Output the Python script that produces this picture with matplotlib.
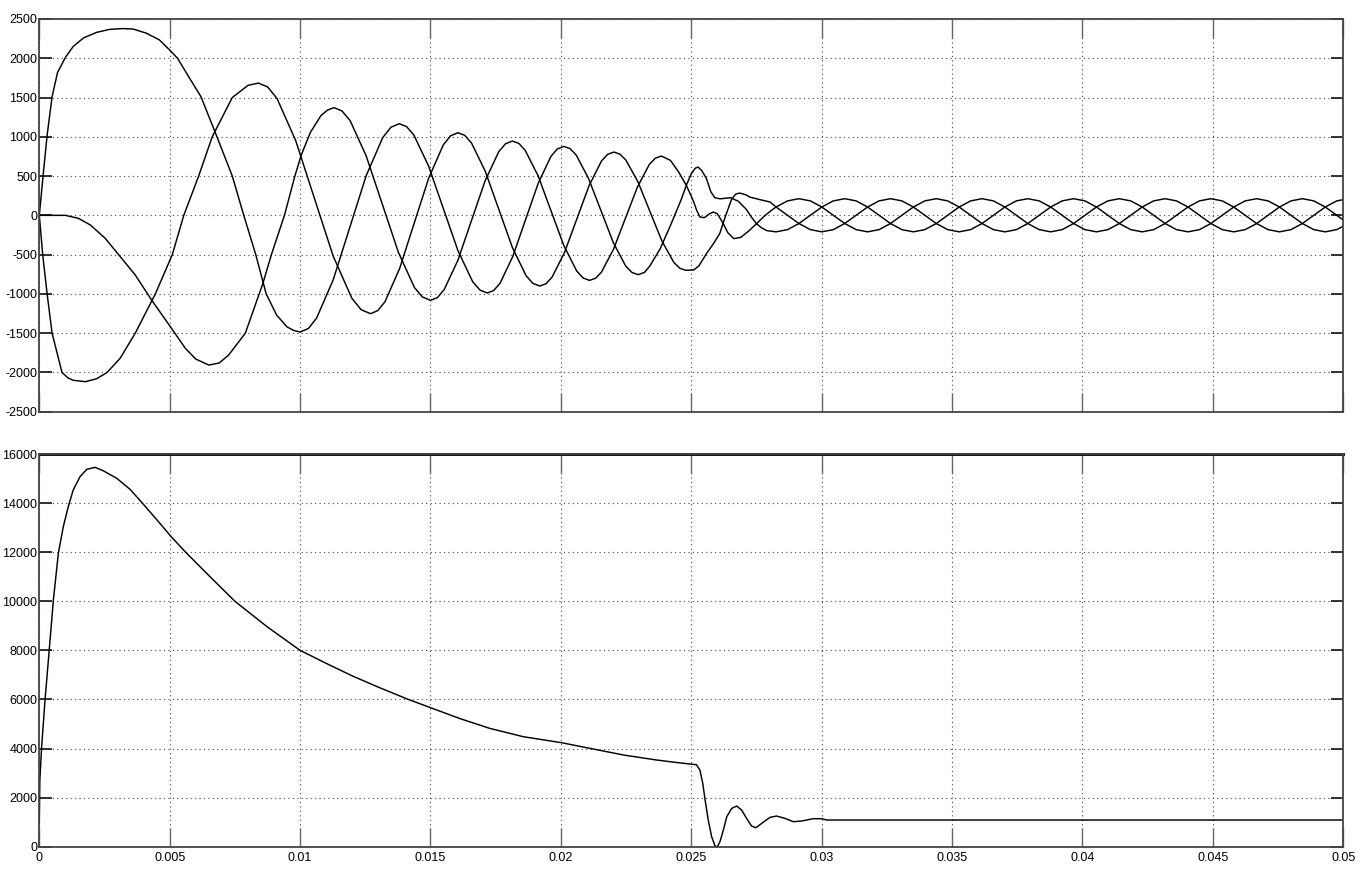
import matplotlib
matplotlib.use("Agg")
import matplotlib.pyplot as plt

plt.rcParams['font.family'] = ['Liberation Sans', 'DejaVu Sans']

# ---------------- data: top panel (three phase currents) ----------------
T1 = [0, 0.00015, 0.0003, 0.00049, 0.0007, 0.001, 0.0013, 0.0017, 0.0022, 0.0027, 0.0032, 0.0036,
      0.0041, 0.0046, 0.005, 0.0053, 0.0057, 0.0062, 0.0068, 0.0074, 0.00784, 0.0083, 0.0087, 0.0091, 0.0095,
      0.00975,
      0.0100, 0.010317, 0.010633, 0.011267, 0.0119, 0.012533, 0.013167, 0.013483,
      0.0138, 0.014082, 0.014363, 0.014927, 0.01549, 0.016053, 0.016617, 0.016898,
      0.01718, 0.017424, 0.017668, 0.018157, 0.018645, 0.019133, 0.019622, 0.019866,
      0.02011, 0.020348, 0.020585, 0.02106, 0.021535, 0.02201, 0.022485, 0.022723,
      0.02296, 0.0232, 0.0234, 0.0238, 0.0242, 0.0246, 0.02481, 0.0250, 0.02515, 0.02526, 0.0254, 0.02558,
      0.02575, 0.0259, 0.0261, 0.0265, 0.0268, 0.0271, 0.0273, 0.0275, 0.0277, 0.0279]
I1 = [0, 520, 1020, 1510, 1820, 2010, 2150, 2260, 2330, 2368, 2378, 2372,
      2320, 2235, 2105, 2000, 1780, 1510, 1010, 500, 0, -500, -1000, -1270, -1420,
      -1465,
      -1486, -1441, -1308, -823, -160, 504, 989, 1122,
      1167, 1130, 1022, 628, 89, -450, -845, -952,
      -989, -957, -864, -522, -56, 411, 753, 846,
      878, 850, 769, 470, 62, -347, -646, -727,
      -755, -728, -650, -430, -130, 190, 382, 530, 600, 615, 570, 470,
      300, 225, 210, 225, 180, 80, -20, -107, -160, -195]

T2 = [0, 0.00013, 0.0003, 0.00049, 0.00087, 0.0011, 0.0013, 0.00177, 0.0022, 0.0026, 0.0031, 0.00368, 0.00445,
      0.0051, 0.00554, 0.00611, 0.00663, 0.0074, 0.008, 0.0084,
      0.008758, 0.009117, 0.009833, 0.01055, 0.011267, 0.011983, 0.012342, 0.0127,
      0.012979, 0.013258, 0.013817, 0.014375, 0.014933, 0.015492, 0.015771, 0.01605,
      0.016312, 0.016573, 0.017097, 0.01762, 0.018143, 0.018667, 0.018928, 0.01919,
      0.019427, 0.019663, 0.020137, 0.02061, 0.021083, 0.021557, 0.021793, 0.02203,
      0.02226, 0.02249, 0.02295, 0.02341, 0.02387, 0.02433, 0.02456, 0.02479,
      0.0251, 0.0253, 0.02558, 0.02585, 0.02609, 0.0263, 0.02654, 0.0267, 0.02686, 0.0271, 0.02724,
      0.02763, 0.02802]
I2 = [0, -500, -1000, -1500, -2000, -2070, -2100, -2118, -2080, -2000, -1820, -1500, -1000,
      -500, 0, 500, 1000, 1500, 1655, 1684,
      1634, 1487, 950, 216, -518, -1055, -1202, -1252,
      -1213, -1098, -676, -100, 476, 898, 1013, 1052,
      1019, 921, 564, 76, -412, -769, -867, -900,
      -871, -786, -474, -47, 380, 692, 777, 806,
      780, 705, 430, 53, -324, -599, -674, -700,
      -695, -640, -488, -360, -233, -20, 200, 270, 284, 260, 233,
      200, 170]

T3 = [0, 0.001, 0.0015, 0.00196, 0.00253, 0.00304, 0.00368, 0.00432, 0.00503, 0.0056, 0.006, 0.0065,
      0.0069, 0.00726, 0.0079, 0.00857, 0.0089, 0.0094, 0.0098, 0.01004, 0.0104, 0.0108, 0.01105, 0.0113,
      0.011608, 0.011917, 0.012533, 0.01315, 0.013767, 0.014383, 0.014692, 0.0150,
      0.015262, 0.015523, 0.016047, 0.01657, 0.017093, 0.017617, 0.017878, 0.01814,
      0.018387, 0.018633, 0.019127, 0.01962, 0.020113, 0.020607, 0.020853, 0.0211,
      0.021329, 0.021558, 0.022017, 0.022475, 0.022933, 0.023392, 0.023621, 0.02385,
      0.0242, 0.0245, 0.02481, 0.02507, 0.0252, 0.02533, 0.0255, 0.0257, 0.02584, 0.026, 0.0262,
      0.0264, 0.02663, 0.0269, 0.0272, 0.0275, 0.0278, 0.02802]
I3 = [0, 0, -38, -123, -293, -500, -760, -1085, -1420, -1693, -1830, -1906,
      -1880, -1779, -1500, -870, -500, 0, 500, 764, 1060, 1270, 1340, 1371,
      1329, 1207, 758, 145, -469, -918, -1040, -1082,
      -1048, -946, -575, -68, 439, 810, 912, 946,
      916, 827, 503, 59, -385, -709, -798, -828,
      -801, -722, -432, -37, 359, 649, 728, 755,
      700, 560, 382, 191, 70, -21, -30, 20, 42, 20, -90,
      -220, -297, -280, -200, -107, -10, 50]

# steady state (shared sampling times)
SS_T = [0.028250, 0.028689, 0.029128, 0.029566, 0.030005, 0.030444, 0.030883, 0.031321, 0.031760,
        0.032199, 0.032638, 0.033076, 0.033515, 0.033954, 0.034393, 0.034831, 0.035270, 0.035709,
        0.036148, 0.036586, 0.037025, 0.037464, 0.037903, 0.038341, 0.038780, 0.039219, 0.039658,
        0.040096, 0.040535, 0.040974, 0.041413, 0.041851, 0.042290, 0.042729, 0.043168, 0.043606,
        0.044045, 0.044484, 0.044923, 0.045361, 0.045800, 0.046239, 0.046678, 0.047116, 0.047555,
        0.047994, 0.048433, 0.048871, 0.049310, 0.049749, 0.050188]
SS_1 = [-210, -182, -104, 1, 106, 184, 212, 184, 106, 1, -104, -182,
        -210, -182, -104, 1, 106, 184, 212, 184, 106, 1, -104, -182,
        -210, -182, -104, 1, 106, 184, 212, 184, 106, 1, -104, -182,
        -210, -182, -104, 1, 106, 184, 212, 184, 106, 1, -104, -182,
        -210, -182, -104]
SS_2 = [106, 1, -104, -182, -210, -182, -104, 1, 106, 184, 212, 184,
        106, 1, -104, -182, -210, -182, -104, 1, 106, 184, 212, 184,
        106, 1, -104, -182, -210, -182, -104, 1, 106, 184, 212, 184,
        106, 1, -104, -182, -210, -182, -104, 1, 106, 184, 212, 184,
        106, 1, -104]
SS_3 = [106, 184, 212, 184, 106, 1, -104, -182, -210, -182, -104, 1,
        106, 184, 212, 184, 106, 1, -104, -182, -210, -182, -104, 1,
        106, 184, 212, 184, 106, 1, -104, -182, -210, -182, -104, 1,
        106, 184, 212, 184, 106, 1, -104, -182, -210, -182, -104, 1,
        106, 184, 212]

# ---------------- data: bottom panel ----------------
TS = [0, 0.00002, 0.00009, 0.00022, 0.00038, 0.00054, 0.00073, 0.00092, 0.00111, 0.0013, 0.00156,
      0.00182, 0.00214, 0.00245, 0.00297, 0.00348, 0.00386, 0.0045, 0.00505, 0.00561, 0.0065,
      0.0075, 0.00875, 0.01, 0.011, 0.012, 0.013, 0.01415, 0.015, 0.0161,
      0.01727, 0.01855, 0.02002, 0.02111, 0.0224, 0.02367, 0.0245, 0.0252,
      0.02533, 0.02544, 0.02552, 0.02565, 0.02578, 0.02591, 0.026, 0.0261, 0.02623, 0.02636,
      0.02655, 0.02674, 0.02693, 0.02712, 0.02731, 0.02748, 0.0277, 0.02802, 0.02827, 0.02859,
      0.02891, 0.02923, 0.02968, 0.03, 0.03019, 0.05]
SPD = [950, 2700, 4074, 5977, 8014, 10051, 11953, 13037, 13852, 14532, 15074,
       15375, 15457, 15318, 15009, 14560, 14110, 13330, 12640, 12000, 11050,
       10000, 8950, 8000, 7470, 6960, 6500, 6000, 5665, 5230,
       4822, 4483, 4238, 4008, 3736, 3532, 3423, 3340,
       3125, 2582, 1970, 1087, 408, 27, 0, 205, 679, 1223,
       1562, 1657, 1494, 1155, 842, 774, 951, 1196, 1250, 1155,
       1019, 1046, 1141, 1141, 1087, 1087]
REF_T = [0, 0.05]
REF = [16000, 16000]

XTICKS = [0, 0.005, 0.01, 0.015, 0.02, 0.025, 0.03, 0.035, 0.04, 0.045, 0.05]
XLABELS = ['0', '0.005', '0.01', '0.015', '0.02', '0.025', '0.03', '0.035', '0.04', '0.045', '0.05']
Y1TICKS = [-2500, -2000, -1500, -1000, -500, 0, 500, 1000, 1500, 2000, 2500]
Y2TICKS = [0, 2000, 4000, 6000, 8000, 10000, 12000, 14000, 16000]

# ---------------- figure ----------------
fig = plt.figure(figsize=(13.68, 8.69), dpi=100)
ax1 = fig.add_axes([0.02873, 0.52624, 0.9532, 0.4519])
ax2 = fig.add_axes([0.02873, 0.02566, 0.9532, 0.4519])

lc = 'black'
lw = 1.05
ax1.plot(T1 + SS_T, I1 + SS_1, color=lc, lw=lw)
ax1.plot(T2 + SS_T, I2 + SS_2, color=lc, lw=lw)
ax1.plot(T3 + SS_T, I3 + SS_3, color=lc, lw=lw)

ax2.plot(TS, SPD, color=lc, lw=lw)
ax2.plot(REF_T, REF, color=lc, lw=2.0, clip_on=False)

for ax, yt in ((ax1, Y1TICKS), (ax2, Y2TICKS)):
    ax.set_xlim(0, 0.05)
    ax.set_ylim(yt[0], yt[-1])
    ax.set_xticks(XTICKS)
    ax.set_yticks(yt)
    ax.set_yticklabels([str(v) for v in yt])
    ax.grid(True, linestyle=(0, (1, 3)), color='#444444', lw=0.8)
    ax.tick_params(axis='x', direction='in', top=True, bottom=True, length=14, width=1,
                   color='#666666', labelsize=9, pad=4)
    ax.tick_params(axis='y', direction='in', left=True, right=True, length=9, width=1.3,
                   color='#222222', labelsize=9, pad=1.5)
    for s in ax.spines.values():
        s.set_color('#444444')
        s.set_linewidth(1.3)

ax1.set_xticklabels([])
ax2.set_xticklabels(XLABELS)

fig.savefig('out.png', dpi=100)
